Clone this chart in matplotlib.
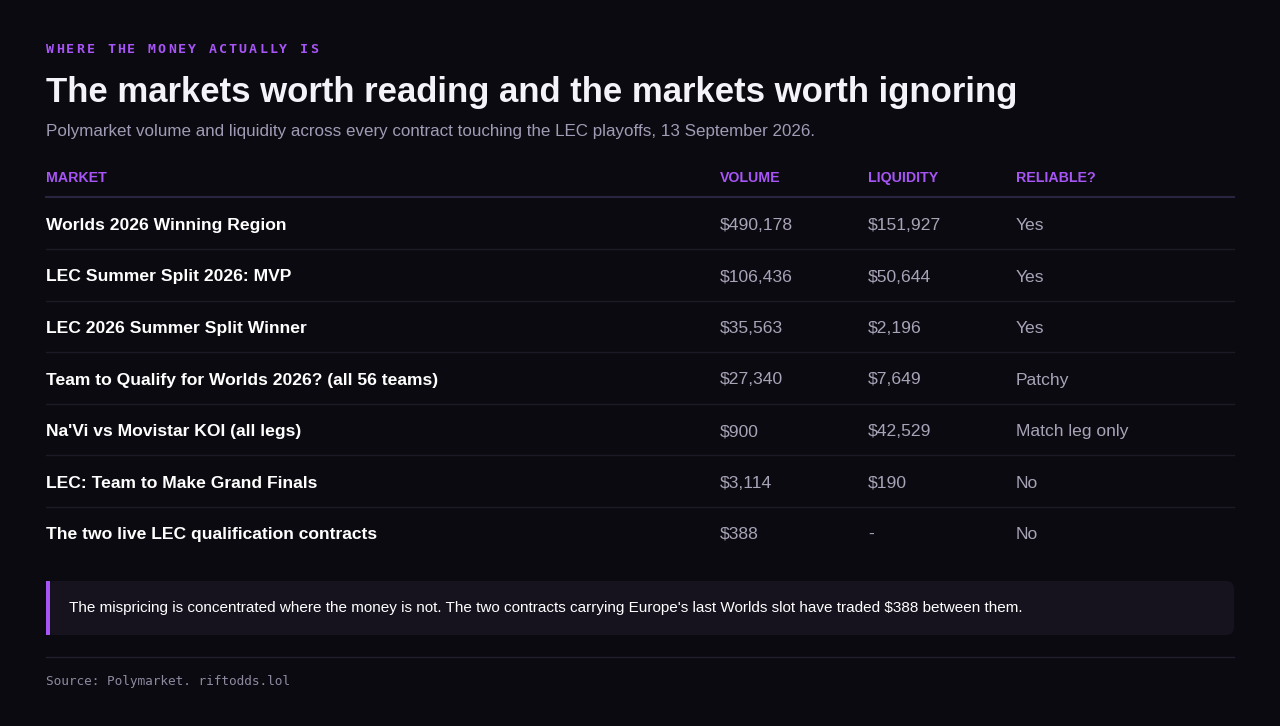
import matplotlib
matplotlib.use("Agg")
import matplotlib.pyplot as plt
from matplotlib.patches import FancyBboxPatch, Rectangle

# donnees du tableau
markets = ["Worlds 2026 Winning Region", "LEC Summer Split 2026: MVP", "LEC 2026 Summer Split Winner",
           "Team to Qualify for Worlds 2026? (all 56 teams)", "Na'Vi vs Movistar KOI (all legs)",
           "LEC: Team to Make Grand Finals", "The two live LEC qualification contracts"]
volume = ["$490,178", "$106,436", "$35,563", "$27,340", "$900", "$3,114", "$388"]
liquidity = ["$151,927", "$50,644", "$2,196", "$7,649", "$42,529", "$190", "-"]
reliable = ["Yes", "Yes", "Yes", "Patchy", "Match leg only", "No", "No"]
headers = ["MARKET", "VOLUME", "LIQUIDITY", "RELIABLE?"]

BG = "#0b0a10"
PURPLE = "#a855f7"
SANS = "Liberation Sans"
MONO = "DejaVu Sans Mono"

fig = plt.figure(figsize=(12.8, 7.26), dpi=100, facecolor=BG)
ax = fig.add_axes([0, 0, 1, 1])
ax.set_xlim(0, 1280)
ax.set_ylim(726, 0)
ax.axis("off")

# titre en petites capitales espacees : un caractere a la fois
eyebrow = "WHERE THE MONEY ACTUALLY IS"
for k, ch in enumerate(eyebrow):
    ax.text(46 + k * 10.15, 53, ch, color=PURPLE, fontsize=9.5, family=MONO,
            fontweight="bold", va="baseline")
ax.text(46, 102, "The markets worth reading and the markets worth ignoring", color="#f5f3fa",
        fontsize=25, family=SANS, fontweight="bold", va="baseline")
ax.text(46, 136, "Polymarket volume and liquidity across every contract touching the LEC playoffs, 13 September 2026.",
        color="#a29bb5", fontsize=12.25, family=SANS, va="baseline")

cols = [46, 720, 868, 1016]
for x, h in zip(cols, headers):
    ax.text(x, 182, h, color=PURPLE, fontsize=10.2, family=SANS, fontweight="bold", va="baseline")
ax.plot([46, 1234], [197, 197], color="#2a2440", lw=1.5)

row_h = 51.5
for i in range(len(markets)):
    y = 224 + i * row_h
    ax.text(cols[0], y + 6, markets[i], color="#ffffff", fontsize=12.6, family=SANS, fontweight="bold", va="baseline")
    ax.text(cols[1], y + 6, volume[i], color="#a9a3b8", fontsize=12.6, family=SANS, va="baseline")
    ax.text(cols[2], y + 6, liquidity[i], color="#a9a3b8", fontsize=12.6, family=SANS, va="baseline")
    ax.text(cols[3], y + 6, reliable[i], color="#a9a3b8", fontsize=12.6, family=SANS, va="baseline")
    if i < len(markets) - 1:
        ax.plot([46, 1234], [y + 25, y + 25], color="#1d1a26", lw=1)

ax.add_patch(FancyBboxPatch((46, 581), 1188, 54, boxstyle="round,pad=0,rounding_size=8",
                            facecolor="#16131f", edgecolor="none"))
ax.add_patch(Rectangle((46, 581), 3.5, 54, facecolor=PURPLE, edgecolor="none"))
ax.text(69, 612, "The mispricing is concentrated where the money is not. The two contracts carrying Europe's last Worlds slot have traded $388 between them.",
        color="#ffffff", fontsize=11, family=SANS, va="baseline")

ax.plot([46, 1234], [657, 657], color="#221e2e", lw=1)
ax.text(46, 685, "Source: Polymarket. riftodds.lol", color="#8f89a0", fontsize=9.2, family=MONO, va="baseline")

fig.savefig("out.png", dpi=100, facecolor=BG)
